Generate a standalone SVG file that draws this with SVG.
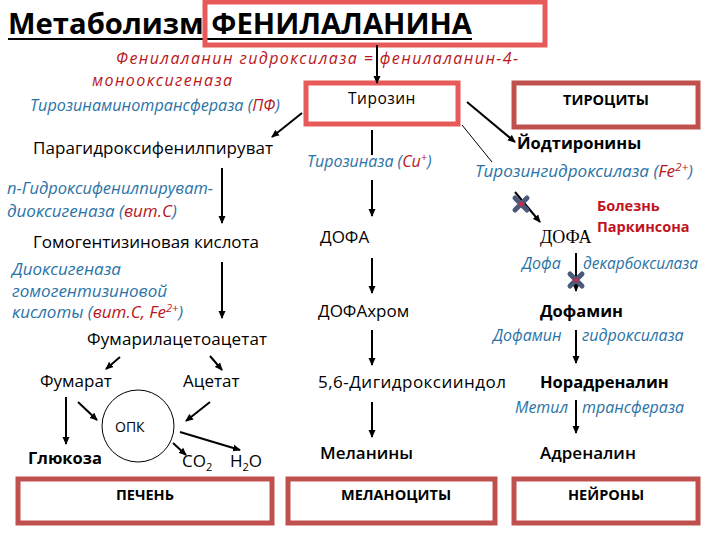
<svg xmlns="http://www.w3.org/2000/svg" width="720" height="540" viewBox="0 0 720 540">
<defs>
<marker id="ah" markerWidth="8" markerHeight="8" refX="7" refY="4" orient="auto" markerUnits="userSpaceOnUse">
<path d="M0,0.5 L8,4 L0,7.5 z" fill="#000"/>
</marker>
<g id="block">
<path d="M-6,-6 L6,6 M6,-6 L-6,6" stroke="#4a5a7a" stroke-width="5" stroke-linecap="round"/>
<circle r="2.5" fill="#c0304a"/>
</g>
</defs>
<style>
text{font-family:"Open Sans","Liberation Sans",sans-serif;fill:#000}
.t{font-size:17px}
.b{font-size:16.5px;font-weight:bold}
.e{font-size:16px;font-style:italic;fill:#2b73a6}
.el{font-size:17px;font-style:italic;fill:#2b73a6}
.r{fill:#b8161c}
.er{font-size:16px;font-style:italic;fill:#b8161c}
.box{fill:#fff;stroke:#c0504d;stroke-width:5}
.rbox{fill:none;stroke:#e85a5a;stroke-width:5}
.lbl{font-size:14.5px;font-weight:bold;text-anchor:middle}
.c{stroke:#000;stroke-width:2;fill:none}
.thin{stroke:#000;stroke-width:1;fill:none}
</style>
<rect width="720" height="540" fill="#fff"/>

<g id="title">
<text x="8" y="34" style="font-size:28px;font-weight:bold" textLength="464" lengthAdjust="spacingAndGlyphs">Метаболизм ФЕНИЛАЛАНИНА</text>
<line x1="8" y1="39" x2="472" y2="39" stroke="#000" stroke-width="2"/>
<rect class="rbox" x="205" y="2" width="340" height="43"/>
</g>

<g id="enzyme-pah">
<text class="er" x="116" y="64" textLength="402">Фенилаланин гидроксилаза  =  фенилаланин-4-</text>
<text class="er" x="92" y="86" textLength="140">монооксигеназа</text>
</g>
<g id="enzyme-tat">
<text class="e" x="30" y="111" textLength="250" lengthAdjust="spacingAndGlyphs">Тирозинаминотрансфераза (<tspan class="r">ПФ</tspan>)</text>
</g>

<g id="tyrosine">
<rect class="rbox" x="306" y="83" width="152" height="41"/>
<text x="382" y="104" text-anchor="middle" style="font-size:15.5px;letter-spacing:0.5px">Тирозин</text>
</g>
<g id="thyrocytes">
<rect class="box" x="514" y="83" width="184" height="44"/>
<text class="lbl" x="606" y="105">ТИРОЦИТЫ</text>
</g>

<g id="paragidroxy"><text class="t" x="33" y="154" textLength="240">Парагидроксифенилпируват</text></g>
<g id="enzyme-hppd">
<text class="el" x="7" y="194" textLength="206" lengthAdjust="spacingAndGlyphs">п-Гидроксифенилпируват-</text>
<text class="el" x="7" y="217">диоксигеназа (<tspan class="r">вит.С</tspan>)</text>
</g>
<g id="homogentisic"><text class="t" x="33" y="248" textLength="226">Гомогентизиновая кислота</text></g>
<g id="enzyme-hgd">
<text class="el" x="12" y="275">Диоксигеназа</text>
<text class="el" x="12" y="297">гомогентизиновой</text>
<text class="el" x="12" y="318">кислоты  (<tspan class="r">вит.С, Fe<tspan dy="-6" style="font-size:11px">2+</tspan></tspan><tspan dy="6">)</tspan></text>
</g>
<g id="fumarylacetoacetate"><text class="t" x="87" y="345" textLength="180">Фумарилацетоацетат</text></g>
<g id="fumarate"><text class="t" x="40" y="387">Фумарат</text></g>
<g id="acetate"><text class="t" x="183" y="387">Ацетат</text></g>
<g id="tca">
<circle cx="138" cy="426" r="36" fill="none" stroke="#000" stroke-width="1"/>
<text x="115" y="432" style="font-size:14px">ОПК</text>
</g>
<g id="glucose"><text class="b" x="28" y="464">Глюкоза</text></g>
<g id="co2"><text class="t" x="182" y="467">CO<tspan dy="4" style="font-size:11px">2</tspan></text></g>
<g id="h2o"><text class="t" x="230" y="467">H<tspan dy="4" style="font-size:11px">2</tspan><tspan dy="-4">O</tspan></text></g>
<g id="liver">
<rect class="box" x="18" y="479" width="254" height="44"/>
<text class="lbl" x="145" y="500">ПЕЧЕНЬ</text>
</g>

<g id="enzyme-tyrosinase"><text class="e" x="307" y="167">Тирозиназа (<tspan class="r">Cu<tspan dy="-6" style="font-size:11px">+</tspan></tspan><tspan dy="6">)</tspan></text></g>
<g id="dopa-mel"><text class="t" x="320" y="243">ДОФА</text></g>
<g id="dopachrome"><text class="t" x="318" y="317">ДОФАхром</text></g>
<g id="dihydroxyindole"><text class="t" x="318" y="388" textLength="188">5,6-Дигидроксииндол</text></g>
<g id="melanins"><text class="t" x="320" y="459" style="font-weight:600">Меланины</text></g>
<g id="melanocytes">
<rect class="box" x="288" y="479" width="207" height="44"/>
<text class="lbl" x="396" y="500">МЕЛАНОЦИТЫ</text>
</g>

<g id="iodothyronines"><text class="b" x="517" y="149">Йодтиронины</text></g>
<g id="enzyme-th"><text class="e" x="475" y="177" textLength="218" lengthAdjust="spacingAndGlyphs">Тирозингидроксилаза (<tspan class="r">Fe<tspan dy="-6" style="font-size:11px">2+</tspan></tspan><tspan dy="6">)</tspan></text></g>
<g id="parkinson">
<text x="597" y="211" style="font-size:14.5px;font-weight:bold;fill:#c0141e">Болезнь</text>
<text x="597" y="232" style="font-size:14.5px;font-weight:bold;fill:#c0141e">Паркинсона</text>
</g>
<g id="dopa-neu"><text x="540" y="243" style="font-family:'Liberation Serif',serif;font-size:18px">ДОФА</text></g>
<g id="enzyme-ddc">
<text class="e" x="522" y="269">Дофа</text>
<text class="e" x="583" y="269" textLength="115" lengthAdjust="spacingAndGlyphs">декарбоксилаза</text>
</g>
<g id="dopamine"><text class="b" x="540" y="317">Дофамин</text></g>
<g id="enzyme-dbh">
<text class="e" x="493" y="341">Дофамин</text>
<text class="e" x="582" y="341">гидроксилаза</text>
</g>
<g id="noradrenaline"><text class="b" x="540" y="388">Норадреналин</text></g>
<g id="enzyme-pnmt">
<text class="e" x="515" y="413">Метил</text>
<text class="e" x="582" y="413">трансфераза</text>
</g>
<g id="adrenaline"><text class="t" x="540" y="459" style="font-weight:600">Адреналин</text></g>
<g id="neurons">
<rect class="box" x="514" y="479" width="184" height="44"/>
<text class="lbl" x="606" y="500">НЕЙРОНЫ</text>
</g>

<g id="connectors">
<line class="c" x1="377" y1="45" x2="377" y2="83" marker-end="url(#ah)"/>
<line class="c" x1="302" y1="113" x2="272" y2="137" marker-end="url(#ah)"/>
<line class="c" x1="467" y1="102" x2="515" y2="142" marker-end="url(#ah)"/>
<line class="thin" x1="462" y1="125" x2="492" y2="162"/>
<line class="c" x1="372" y1="130" x2="372" y2="155"/>
<line class="c" x1="372" y1="180" x2="372" y2="216" marker-end="url(#ah)"/>
<line class="c" x1="372" y1="258" x2="372" y2="293" marker-end="url(#ah)"/>
<line class="c" x1="372" y1="330" x2="372" y2="365" marker-end="url(#ah)"/>
<line class="c" x1="372" y1="402" x2="372" y2="437" marker-end="url(#ah)"/>
<line class="c" x1="222" y1="168" x2="222" y2="223" marker-end="url(#ah)"/>
<line class="c" x1="222" y1="262" x2="222" y2="318" marker-end="url(#ah)"/>
<line class="c" x1="120" y1="357" x2="106" y2="369" marker-end="url(#ah)"/>
<line class="c" x1="210" y1="356" x2="222" y2="370" marker-end="url(#ah)"/>
<line class="c" x1="66" y1="397" x2="66" y2="444" marker-end="url(#ah)"/>
<line class="c" x1="78" y1="402" x2="97" y2="420" marker-end="url(#ah)"/>
<line class="c" x1="210" y1="402" x2="186" y2="421" marker-end="url(#ah)"/>
<line class="c" x1="173" y1="443" x2="186" y2="455" marker-end="url(#ah)"/>
<line class="c" x1="180" y1="432" x2="240" y2="450" marker-end="url(#ah)"/>
<line class="c" x1="515" y1="192" x2="540" y2="222" marker-end="url(#ah)"/>
<line class="c" x1="576" y1="253" x2="576" y2="291" marker-end="url(#ah)"/>
<line class="c" x1="576" y1="330" x2="576" y2="363" marker-end="url(#ah)"/>
<line class="c" x1="576" y1="400" x2="576" y2="433" marker-end="url(#ah)"/>
<use href="#block" x="521" y="204"/>
<use href="#block" x="576" y="280"/>
</g>
</svg>
